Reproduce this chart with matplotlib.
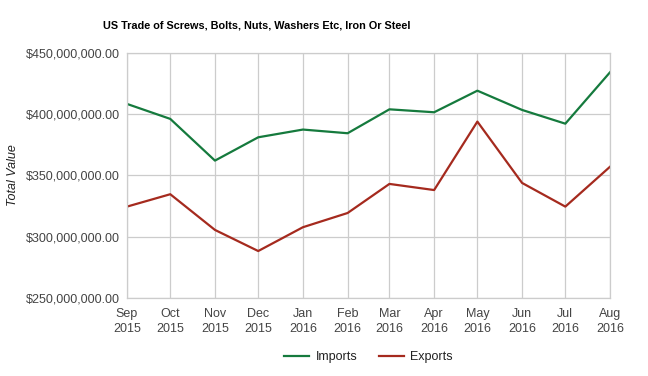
import matplotlib
matplotlib.use("Agg")
import matplotlib.pyplot as plt
from matplotlib.ticker import FuncFormatter
from datetime import date

plt.rcParams['font.family'] = ['Liberation Sans', 'DejaVu Sans']

# monthly data, Sep 2015 - Aug 2016 (values in dollars)
months = [date(2015, 9, 1), date(2015, 10, 1), date(2015, 11, 1), date(2015, 12, 1),
          date(2016, 1, 1), date(2016, 2, 1), date(2016, 3, 1), date(2016, 4, 1),
          date(2016, 5, 1), date(2016, 6, 1), date(2016, 7, 1), date(2016, 8, 1)]
tick_labels = ["Sep\n2015", "Oct\n2015", "Nov\n2015", "Dec\n2015", "Jan\n2016", "Feb\n2016",
               "Mar\n2016", "Apr\n2016", "May\n2016", "Jun\n2016", "Jul\n2016", "Aug\n2016"]
imports = [408.2e6, 396.0e6, 362.0e6, 381.0e6, 387.3e6, 384.3e6,
           403.8e6, 401.4e6, 419.0e6, 403.3e6, 392.1e6, 434.0e6]
exports = [324.5e6, 334.6e6, 305.5e6, 288.3e6, 307.7e6, 319.3e6,
           343.0e6, 338.0e6, 393.8e6, 343.8e6, 324.5e6, 357.0e6]
y_ticks = [250e6, 300e6, 350e6, 400e6, 450e6]

fig = plt.figure(figsize=(6.48, 3.76), dpi=100)
ax = fig.add_axes([0.196, 0.2074, 0.7454, 0.6526])

ax.plot(months, imports, color="#157a3d", lw=1.6, label="Imports")
ax.plot(months, exports, color="#a52a1e", lw=1.6, label="Exports")

ax.set_xlim(months[0], months[-1])
ax.set_ylim(250e6, 450e6)
ax.set_xticks(months)
ax.set_xticklabels(tick_labels)
ax.set_yticks(y_ticks)
ax.yaxis.set_major_formatter(FuncFormatter(lambda v, p: "${:,.2f}".format(v)))

ax.grid(True, color="#cccccc", lw=0.9)
ax.set_axisbelow(True)
for s in ax.spines.values():
    s.set_color("#cccccc")
    s.set_linewidth(0.9)
ax.tick_params(length=0, labelsize=9, labelcolor="#444444", pad=5)
ax.tick_params(axis='x', pad=7)
for lbl in ax.get_xticklabels():
    lbl.set_linespacing(1.4)

ax.set_ylabel("Total Value", fontsize=9, style="italic", color="#222222")
ax.yaxis.set_label_coords(-0.224, 0.5)

fig.text(103 / 648, 1 - 25 / 376, "US Trade of Screws, Bolts, Nuts, Washers Etc, Iron Or Steel",
         fontsize=7.8, fontweight="bold", ha="left", va="center", color="#000000")

ax.legend(loc="center", bbox_to_anchor=(0.5, -0.24), ncol=2, frameon=False,
          fontsize=9, handlelength=2.0, columnspacing=1.7, handletextpad=0.5,
          labelcolor="#222222")

fig.savefig("out.png", dpi=100)
